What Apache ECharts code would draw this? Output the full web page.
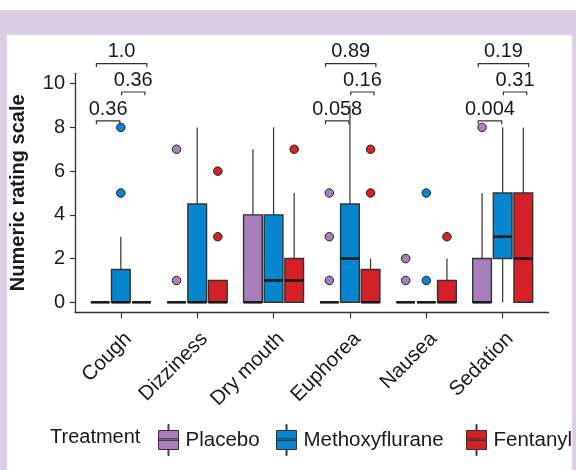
<!DOCTYPE html>
<html><head><meta charset="utf-8">
<script src="https://cdn.jsdelivr.net/npm/echarts@6/dist/echarts.min.js"></script>
<style>html,body{margin:0;padding:0;background:#fff}#c{width:576px;height:470px}</style>
</head><body><div id="c"></div>
<script>
// ---- data ----
const categories = ['Cough', 'Dizziness', 'Dry mouth', 'Euphorea', 'Nausea', 'Sedation'];
const treatments = ['Placebo', 'Methoxyflurane', 'Fentanyl'];
// box stats per category: [min, Q1, median, Q3, max]
const placeboBox = [[0,0,0,0,0],[0,0,0,0,0],[0,0,0,4,7],[0,0,0,0,0],[0,0,0,0,0],[0,0,0,2,5]];
const methoxyBox = [[0,0,0,1.5,3],[0,0,0,4.5,8],[0,0,1,4,8],[0,0,2,4.5,9],[0,0,0,0,0],[0,2,3,5,8]];
const fentanylBox = [[0,0,0,0,0],[0,0,0,1,1],[0,0,1,2,5],[0,0,0,1.5,2],[0,0,0,1,2],[0,0,2,5,8]];
// outliers: [category index, value]
const placeboOut = [[1,1],[1,7],[3,1],[3,3],[3,5],[4,1],[4,2],[5,8]];
const methoxyOut = [[0,5],[0,8],[4,1],[4,5]];
const fentanylOut = [[1,3],[1,6],[2,7],[3,5],[3,7],[4,3]];
// p-value annotations
const pCategories = [0, 3, 5];
const pPlaceboMethoxy = ['0.36', '0.058', '0.004'];
const pMethoxyFentanyl = ['0.36', '0.16', '0.31'];
const pPlaceboFentanyl = ['1.0', '0.89', '0.19'];
const pLevels = [8.30, 9.62, 10.92];
const yTicks = [0, 2, 4, 6, 8, 10];

// ---- styling ----
const FONT = 'Liberation Sans';
const colors = ['#a67fbb', '#0586cf', '#d42027'];
const dodge = [-0.27, 0, 0.27];
const boxW = 0.245;
const boxes = [placeboBox, methoxyBox, fentanylBox];
const outs = [placeboOut, methoxyOut, fentanylOut];
const compLabels = [pPlaceboMethoxy, pMethoxyFentanyl, pPlaceboFentanyl];
const compSpan = [[-0.32, -0.013], [0.01, 0.315], [-0.32, 0.34]];
const levelOfComp = [0, 1, 2];

const series = [];
boxes.forEach((arr, k) => {
  series.push({
    type: 'custom', name: treatments[k], coordinateSystem: 'cartesian2d', clip: false,
    data: arr.map((d, i) => [i + 1].concat(d)),
    encode: { x: 0, y: [1, 2, 3, 4, 5] },
    itemStyle: { color: colors[k] },
    renderItem: (params, api) => {
      const x = api.value(0) + dodge[k];
      const mn = api.value(1), q1 = api.value(2), md = api.value(3), q3 = api.value(4), mx = api.value(5);
      const hw = api.size([boxW, 0])[0] / 2;
      const c = v => api.coord([x, v]);
      const pq1 = c(q1), pq3 = c(q3), pmd = c(md), pmn = c(mn), pmx = c(mx);
      const cx = pq1[0];
      const ch = [];
      if (mx > q3) ch.push({ type: 'line', shape: { x1: cx, y1: pq3[1], x2: cx, y2: pmx[1] }, style: { stroke: '#333', lineWidth: 1.2 } });
      if (mn < q1) ch.push({ type: 'line', shape: { x1: cx, y1: pq1[1], x2: cx, y2: pmn[1] }, style: { stroke: '#333', lineWidth: 1.2 } });
      ch.push({ type: 'rect', shape: { x: cx - hw, y: pq3[1], width: 2 * hw, height: pq1[1] - pq3[1] }, style: { fill: colors[k], stroke: '#333', lineWidth: 1.4 } });
      ch.push({ type: 'line', shape: { x1: cx - hw, y1: pmd[1], x2: cx + hw, y2: pmd[1] }, style: { stroke: '#1a1a1a', lineWidth: 2.6 } });
      return { type: 'group', children: ch };
    },
    z: 2
  });
});
outs.forEach((arr, k) => {
  series.push({
    type: 'scatter', name: treatments[k],
    data: arr.map(d => [d[0] + 1 + dodge[k], d[1]]),
    symbolSize: 8.5,
    itemStyle: { color: colors[k], borderColor: '#222', borderWidth: 1, opacity: 1 },
    z: 3
  });
});
// significance brackets
const bracketData = [];
pCategories.forEach((c, j) => {
  [0, 1, 2].forEach(t => bracketData.push([c + 1, pLevels[levelOfComp[t]], t, j]));
});
series.push({
  type: 'custom', coordinateSystem: 'cartesian2d', clip: false, silent: true,
  data: bracketData, encode: { x: 0, y: 1 },
  renderItem: (params, api) => {
    const cx = api.value(0), lv = api.value(1), t = api.value(2), j = api.value(3);
    const a = api.coord([cx + compSpan[t][0], lv]);
    const b = api.coord([cx + compSpan[t][1], lv]);
    const tip = 3.3;
    return { type: 'group', children: [
      { type: 'polyline', shape: { points: [[a[0], a[1] + tip], [a[0], a[1]], [b[0], b[1]], [b[0], b[1] + tip]] }, style: { stroke: '#333', lineWidth: 1.2, fill: null } },
      { type: 'text', style: { text: compLabels[t][j], x: (a[0] + b[0]) / 2, y: a[1] - 11.8, align: 'center', verticalAlign: 'middle', fontSize: 20, fontFamily: FONT, fill: '#1a1a1a' } }
    ] };
  },
  z: 4
});

const iconPath = 'path://M9.5,0h1v6h-1z M0,6h20v19h-20z M9.5,25h1v6h-1z M0,14.3h20v1.6h-20z';
const legendLeft = [158, 276, 466];

const chart = echarts.init(document.getElementById('c'));
chart.setOption({
  animation: false,
  backgroundColor: '#ffffff',
  graphic: [
    { type: 'rect', z: -10, silent: true, shape: { x: 0, y: 10, width: 576, height: 460 }, style: { fill: '#d9cce4' } },
    { type: 'rect', z: -9, silent: true, shape: { x: 7, y: 35, width: 565, height: 440 }, style: { fill: '#ffffff', stroke: '#ece6f1', lineWidth: 1 } }
  ],
  title: { text: 'Treatment', left: 50, top: 427, padding: 0, textStyle: { fontSize: 20, fontWeight: 'normal', fontFamily: FONT, color: '#1a1a1a' } },
  legend: treatments.map((t, k) => ({
    data: [t], left: legendLeft[k], top: 424, padding: 0, itemGap: 0,
    itemWidth: 20, itemHeight: 31, icon: iconPath, selectedMode: false,
    itemStyle: { color: colors[k], borderColor: '#333', borderWidth: 1 },
    textStyle: { fontSize: 20.5, fontFamily: FONT, color: '#1a1a1a', padding: [0, 0, 0, 2] }
  })),
  grid: { left: 75, right: 27.5, top: 73.3, bottom: 157.7, containLabel: false },
  xAxis: {
    type: 'value', min: 0.4, max: 6.6,
    axisLine: { show: true, onZero: false, lineStyle: { color: '#333', width: 1.3 } },
    axisTick: { show: true, customValues: [1, 2, 3, 4, 5, 6], length: 6, lineStyle: { color: '#333', width: 1.2 } },
    axisLabel: {
      customValues: [1, 2, 3, 4, 5, 6], formatter: v => categories[Math.round(v) - 1],
      rotate: 45, align: 'right', verticalAlign: 'top', margin: 16,
      fontSize: 20.5, fontFamily: FONT, color: '#1a1a1a'
    },
    splitLine: { show: false }
  },
  yAxis: {
    type: 'value', min: -0.458, max: 10.476,
    name: 'Numeric rating scale', nameLocation: 'middle', nameGap: 47,
    nameTextStyle: { fontSize: 20, fontWeight: 'bold', fontFamily: FONT, color: '#1a1a1a' },
    axisLine: { show: true, onZero: false, lineStyle: { color: '#333', width: 1.3 } },
    axisTick: { show: true, customValues: yTicks, length: 5, lineStyle: { color: '#333', width: 1.2 } },
    axisLabel: { customValues: yTicks, margin: 10, fontSize: 20, fontFamily: FONT, color: '#1a1a1a' },
    splitLine: { show: false }
  },
  series
});
</script></body></html>
